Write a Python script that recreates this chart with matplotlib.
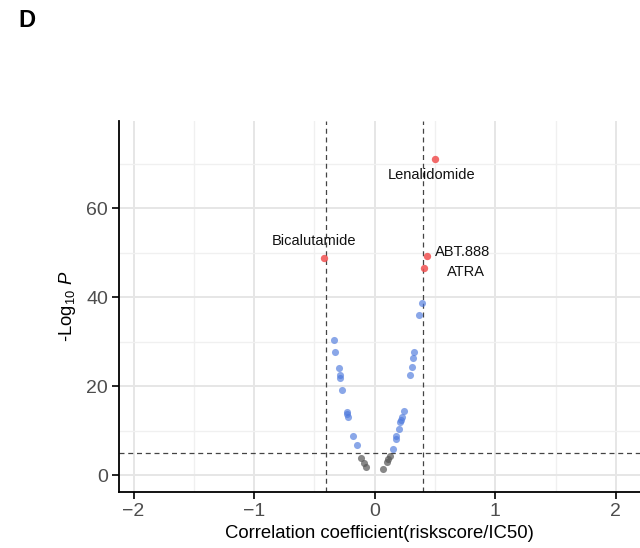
import matplotlib
matplotlib.use("Agg")
import numpy as np
import matplotlib.pyplot as plt
from matplotlib.ticker import MultipleLocator

plt.rcParams['font.family'] = ['Liberation Sans', 'DejaVu Sans']
plt.rcParams['mathtext.fontset'] = 'custom'
plt.rcParams['mathtext.rm'] = 'Liberation Sans'
plt.rcParams['mathtext.it'] = 'Liberation Sans:italic'

# correlation coefficient and -log10 p per drug
blue_x = [-0.34, -0.33, -0.30, -0.29, -0.29, -0.27, -0.23, -0.23, -0.22, -0.18, -0.15,
          0.15, 0.18, 0.18, 0.20, 0.21, 0.22, 0.23, 0.24, 0.29, 0.31, 0.32, 0.33, 0.37, 0.39]
blue_y = [30.3, 27.7, 24.1, 22.5, 21.8, 19.1, 14.2, 13.7, 13.0, 8.8, 6.7,
          5.8, 8.2, 8.8, 10.4, 11.9, 12.4, 13.0, 14.3, 22.4, 24.4, 26.3, 27.6, 36.0, 38.7]
gray_x = [-0.11, -0.09, -0.07, 0.07, 0.10, 0.11, 0.13]
gray_y = [3.9, 2.8, 1.9, 1.4, 3.0, 3.5, 4.3]
red_names = ["Lenalidomide", "Bicalutamide", "ABT.888", "ATRA"]
red_x = [0.50, -0.42, 0.43, 0.41]
red_y = [71.0, 48.8, 49.2, 46.5]
label_x = [0.47, -0.50, 0.73, 0.76]
label_y = [67.6, 52.6, 50.1, 45.6]

fc_cut = 0.4
p_cut = 5

fig = plt.figure(figsize=(6.4, 5.48), dpi=100)
ax = fig.add_axes([0.186, 0.1027, 0.814, 0.677])

ax.set_xlim(-2.12, 2.2)
ax.set_ylim(-3.76, 79.7)
ax.xaxis.set_major_locator(MultipleLocator(1))
ax.xaxis.set_minor_locator(MultipleLocator(0.5))
ax.yaxis.set_major_locator(MultipleLocator(20))
ax.yaxis.set_minor_locator(MultipleLocator(10))
ax.grid(which='major', color='#E6E6E6', lw=1.4, zorder=0)
ax.grid(which='minor', color='#F0F0F0', lw=1.0, zorder=0)
ax.set_axisbelow(True)
for s in ['top', 'right']:
    ax.spines[s].set_visible(False)
for s in ['left', 'bottom']:
    ax.spines[s].set_linewidth(1.3)
ax.tick_params(which='minor', length=0)
ax.tick_params(which='major', length=5, width=1.2, pad=3, labelsize=14, labelcolor='#4D4D4D')

ax.axvline(-fc_cut, color='#444444', ls=(0, (4, 3)), lw=0.9)
ax.axvline(fc_cut, color='#444444', ls=(0, (4, 3)), lw=0.9)
ax.axhline(p_cut, color='#444444', ls=(0, (4, 3)), lw=0.9)

ax.scatter(gray_x, gray_y, s=26, color='#555555', alpha=0.7, lw=0, zorder=3)
ax.scatter(blue_x, blue_y, s=26, color='#4C78DD', alpha=0.65, lw=0, zorder=3)
ax.scatter(red_x, red_y, s=28, color='#F05050', alpha=0.85, lw=0, zorder=3)
for n, lx, ly in zip(red_names, label_x, label_y):
    ax.text(lx, ly, n, fontsize=10.5, ha='center', va='center', color='#111111', zorder=4)

ax.set_xlabel("Correlation coefficient(riskscore/IC50)", fontsize=13.3, labelpad=4)
ax.set_ylabel(r"-Log$_{10}$ $\mathit{P}$", fontsize=13.3, labelpad=6)

fig.text(0.028, 0.963, "D", fontsize=17, fontweight='bold', va='center')

fig.savefig("out.png", dpi=100)
